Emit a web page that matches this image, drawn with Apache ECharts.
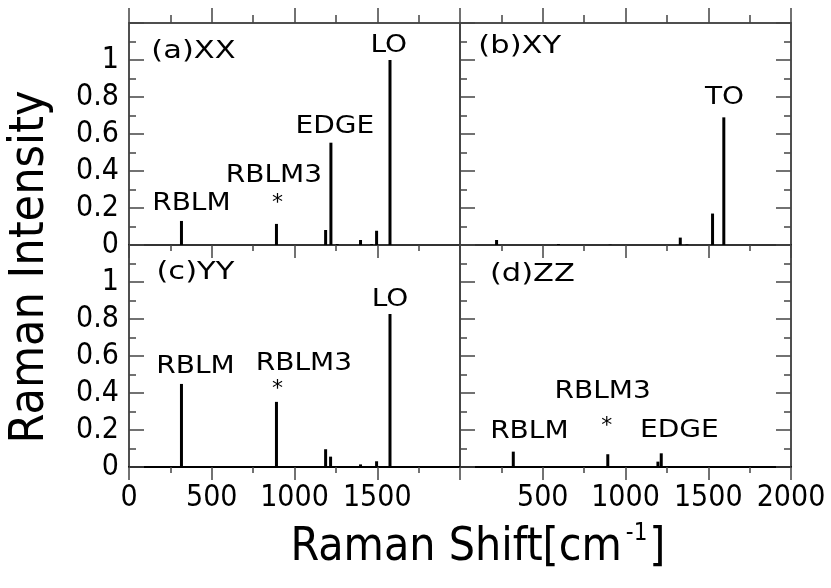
<!DOCTYPE html>
<html><head><meta charset="utf-8">
<script src="https://cdn.jsdelivr.net/npm/echarts@6/dist/echarts.min.js"></script>
<style>html,body{margin:0;padding:0;background:#fff}#c{width:831px;height:588px}</style>
</head><body><div id="c"></div>
<script>
// ---- data ----
const panelTitles = ['(a)XX', '(b)XY', '(c)YY', '(d)ZZ'];
const shiftXX = [317, 891, 1188, 1220, 1258, 1399, 1466, 1496, 1577];
const intensityXX = [0.13, 0.114, 0.081, 0.553, 0.005, 0.027, 0.005, 0.077, 1.0];
const shiftXY = [221, 595, 907, 1331, 1371, 1526, 1594];
const intensityXY = [0.027, 0.005, 0.002, 0.04, 0.003, 0.17, 0.69];
const shiftYY = [317, 891, 1188, 1218, 1399, 1496, 1577];
const intensityYY = [0.449, 0.352, 0.096, 0.056, 0.014, 0.031, 0.827];
const shiftZZ = [322, 893, 1196, 1216];
const intensityZZ = [0.083, 0.069, 0.029, 0.074];
// annotation anchors: [text, shift, intensity]
const titleAnchors = [[135, 1.045], [111, 1.072], [166, 1.049], [181, 1.04]];
const notesXX = [['LO', 1570, 1.081], ['EDGE', 1244, 0.64], ['RBLM3', 876, 0.378], ['*', 897, 0.225], ['RBLM', 377, 0.222]];
const notesXY = [['TO', 1598, 0.80]];
const notesYY = [['LO', 1577, 0.904], ['RBLM', 402, 0.543], ['RBLM3', 1057, 0.561], ['*', 897, 0.422]];
const notesZZ = [['RBLM3', 862, 0.408], ['RBLM', 419, 0.191], ['*', 887, 0.218], ['EDGE', 1325, 0.20]];
const xLabelsLeft = ['0', '500', '1000', '1500', ''];
const xLabelsRight = ['', '500', '1000', '1500', '2000'];
const yLabels = ['0', '0.2', '0.4', '0.6', '0.8', '1', ''];
const yTitle = 'Raman Intensity';
const xTitleMain = 'Raman Shift[cm';
const xTitleSup = '-1';

// ---- chart ----
const shifts = [shiftXX, shiftXY, shiftYY, shiftZZ];
const intens = [intensityXX, intensityXY, intensityYY, intensityZZ];
const notes = [notesXX, notesXY, notesYY, notesZZ];
const numFont = "'DejaVu Sans Condensed', 'DejaVu Sans', sans-serif";
const frameColor = '#444';
const grids = [
  {left: 129, top: 23, width: 331, height: 222},
  {left: 460, top: 23, width: 331, height: 222},
  {left: 129, top: 245, width: 331, height: 222},
  {left: 460, top: 245, width: 331, height: 222}
].map(g => Object.assign(g, {show: true, borderColor: frameColor, borderWidth: 1.5, backgroundColor: 'transparent'}));
const xAxes = [], yAxes = [], series = [];
for (let i = 0; i < 4; i++) {
  const isTop = i < 2, isLeft = (i % 2 === 0);
  const xl = isLeft ? xLabelsLeft : xLabelsRight;
  xAxes.push({
    gridIndex: i, type: 'value', min: 0, max: 2000, interval: 500, position: 'bottom',
    axisLine: {show: true, onZero: false, lineStyle: {color: '#000', width: 2}},
    axisTick: {show: true, inside: false, length: 13, lineStyle: {color: frameColor, width: 1.5}},
    minorTick: {show: true, splitNumber: 2, length: 6, lineStyle: {color: frameColor, width: 1.5}},
    axisLabel: {show: !isTop, color: '#000', fontSize: 30, fontFamily: numFont, margin: 16,
      formatter: (v, idx) => xl[idx] !== undefined ? xl[idx] : ''},
    splitLine: {show: false}, minorSplitLine: {show: false}
  });
  xAxes.push({
    gridIndex: i, type: 'value', min: 0, max: 2000, interval: 500, position: 'top',
    axisLine: {show: true, onZero: false, lineStyle: {color: frameColor, width: 1.5}},
    axisTick: {show: isTop, inside: false, length: 15, lineStyle: {color: frameColor, width: 1.5}},
    minorTick: {show: isTop, splitNumber: 2, length: 8, lineStyle: {color: frameColor, width: 1.5}},
    axisLabel: {show: false}, splitLine: {show: false}
  });
  yAxes.push({
    gridIndex: i, type: 'value', min: 0, max: 1.2, interval: 0.2, position: 'left',
    axisLine: {show: true, onZero: false, lineStyle: {color: frameColor, width: 1.5}},
    axisTick: {show: true, inside: true, length: 15, lineStyle: {color: frameColor, width: 1.5}},
    minorTick: {show: true, splitNumber: 2, length: 7, lineStyle: {color: frameColor, width: 1.5}},
    axisLabel: {show: isLeft, color: '#000', fontSize: 30, fontFamily: numFont, margin: 10,
      formatter: (v, idx) => yLabels[idx] !== undefined ? yLabels[idx] : ''},
    splitLine: {show: false}
  });
  yAxes.push({
    gridIndex: i, type: 'value', min: 0, max: 1.2, interval: 0.2, position: 'right',
    axisLine: {show: true, onZero: false, lineStyle: {color: frameColor, width: 1.5}},
    axisTick: {show: !isLeft, inside: true, length: 15, lineStyle: {color: frameColor, width: 1.5}},
    minorTick: {show: !isLeft, splitNumber: 2, length: 7, lineStyle: {color: frameColor, width: 1.5}},
    axisLabel: {show: false}, splitLine: {show: false}
  });
  series.push({
    type: 'bar', xAxisIndex: 2 * i, yAxisIndex: 2 * i, barWidth: 3, silent: true,
    itemStyle: {color: '#000'},
    data: shifts[i].map((s, k) => [s, intens[i][k]])
  });
  const pn = notes[i];
  series.push({
    type: 'custom', xAxisIndex: 2 * i, yAxisIndex: 2 * i, silent: true, clip: false, z: 10,
    data: pn.map(n => [n[1], n[2]]),
    renderItem: (params, api) => {
      const p = api.coord([api.value(0), api.value(1)]);
      const txt = pn[params.dataIndex][0];
      const star = txt === '*';
      return {type: 'text', x: p[0], y: p[1], scaleX: star ? 1 : 1.12,
        style: {text: txt, fill: '#000', align: 'center', verticalAlign: 'middle',
          font: (star ? '22px' : '25px') + " 'DejaVu Sans', sans-serif"}};
    }
  });
  series.push({
    type: 'custom', xAxisIndex: 2 * i, yAxisIndex: 2 * i, silent: true, clip: false, z: 10,
    data: [titleAnchors[i]],
    renderItem: (params, api) => {
      const p = api.coord([api.value(0), api.value(1)]);
      return {type: 'text', x: p[0], y: p[1], scaleX: 1.22,
        style: {text: panelTitles[i], fill: '#000', align: 'left', verticalAlign: 'middle',
          font: "25px 'DejaVu Sans', sans-serif"}};
    }
  });
}
const chart = echarts.init(document.getElementById('c'), null, {renderer: 'canvas'});
chart.setOption({
  animation: false,
  backgroundColor: '#fff',
  grid: grids,
  xAxis: xAxes,
  yAxis: yAxes,
  series: series,
  graphic: [
    {type: 'text', x: 31, y: 267, rotation: Math.PI / 2,
      style: {text: yTitle, fill: '#000', align: 'center', verticalAlign: 'middle',
        font: "48px " + numFont}},
    {type: 'text', x: 478, y: 548,
      style: {text: '{m|' + xTitleMain + '}{s|' + xTitleSup + '}{m|]}', align: 'center', verticalAlign: 'middle',
        rich: {
          m: {fontSize: 46, fontFamily: numFont, color: '#000'},
          s: {fontSize: 24, fontFamily: numFont, color: '#000', padding: [0, 2, 28, 4]}
        }}}
  ]
});
</script></body></html>
